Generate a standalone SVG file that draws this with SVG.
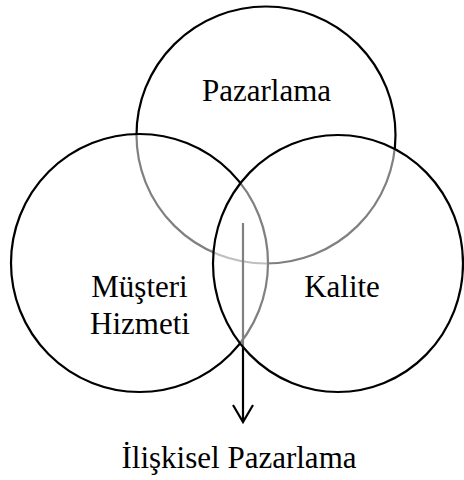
<svg xmlns="http://www.w3.org/2000/svg" width="464" height="480" viewBox="0 0 464 480">
<style>
.c{fill:#ffffff;fill-opacity:0.5;stroke:#000;stroke-width:2.2}
.t{font-family:"Liberation Serif","Times New Roman",serif;font-size:31px;fill:#000;text-anchor:middle}
.a{fill:none;stroke:#000;stroke-width:2.2}
</style>
<rect width="464" height="480" fill="#fff"/>
<g id="pazarlama">
<ellipse class="c" cx="266" cy="135" rx="129.5" ry="128.5"/>
<text class="t" x="266.5" y="100.5">Pazarlama</text>
</g>
<g id="musteri-hizmeti">
<ellipse class="c" cx="139.5" cy="263" rx="128.5" ry="129"/>
<text class="t" x="139.5" y="296.5">Müşteri</text>
<text class="t" x="140" y="334">Hizmeti</text>
</g>
<g id="connectors">
<path class="a" d="M243,223 V421 M233,405 L243,422 L253,405"/>
</g>
<g id="kalite">
<ellipse class="c" cx="338" cy="263.5" rx="125" ry="128.5"/>
<text class="t" x="342" y="297">Kalite</text>
</g>
<g id="iliskisel-pazarlama">
<text class="t" x="239" y="468">İlişkisel Pazarlama</text>
</g>
</svg>
